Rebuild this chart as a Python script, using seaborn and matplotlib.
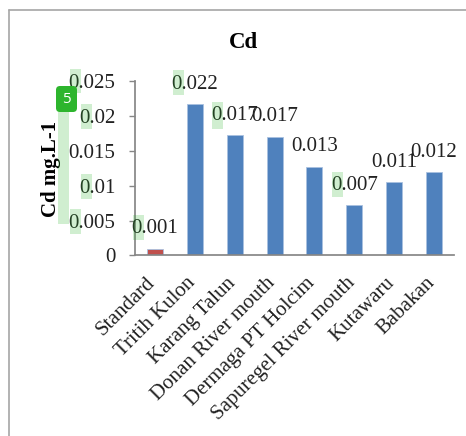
import matplotlib
matplotlib.use('Agg')
import matplotlib.pyplot as plt
import matplotlib.transforms as mtransforms
import seaborn as sns
from matplotlib.lines import Line2D
from matplotlib.patches import FancyBboxPatch, Rectangle

sites = ['Standard', 'Tritih Kulon', 'Karang Talun', 'Donan River mouth',
         'Dermaga PT Holcim', 'Sapuregel River mouth', 'Kutawaru', 'Babakan']
cd_values = [0.001, 0.0217, 0.0172, 0.0170, 0.0127, 0.0072, 0.0105, 0.0119]
cd_labels = ['0.001', '0.022', '0.017', '0.017', '0.013', '0.007', '0.011', '0.012']
bar_colors = ['#C0504D', '#4F81BD', '#4F81BD', '#4F81BD', '#4F81BD', '#4F81BD', '#4F81BD', '#4F81BD']
y_ticks = [0, 0.005, 0.01, 0.015, 0.02, 0.025]
y_tick_labels = ['0', '0.005', '0.01', '0.015', '0.02', '0.025']

W, H = 466, 436

sns.set_theme(style='white')
plt.rcParams['font.family'] = ['Liberation Serif', 'DejaVu Serif']

fig = plt.figure(figsize=(W / 100, H / 100), dpi=100)
ax = fig.add_axes([135 / W, 1 - 255.5 / H, 319 / W, 174.5 / H])

sns.barplot(x=sites, y=cd_values, hue=sites, palette=bar_colors, width=0.4, saturation=1,
            legend=False, ax=ax, edgecolor='#A9C1E0', linewidth=0.6)

for container, label in zip(ax.containers, cd_labels):
    ax.bar_label(container, labels=[label], padding=7.5, fontsize=15, color='#222222')

ax.set_xlim(-0.5, 7.5)
ax.set_ylim(0, 0.025)
ax.set_yticks(y_ticks)
ax.set_yticklabels(y_tick_labels, fontsize=15, color='#222222')
ax.tick_params(axis='y', length=4.5, width=1, color='#868686', pad=9.5, left=True)
ax.tick_params(axis='x', length=0, pad=13)
shift = mtransforms.ScaledTranslation(-9 / 100, 0, fig.dpi_scale_trans)
for tick_label in ax.get_xticklabels():
    tick_label.set_transform(tick_label.get_transform() + shift)
plt.setp(ax.get_xticklabels(), rotation=45, ha='right', rotation_mode='anchor',
         fontsize=15, color='#222222')

sns.despine(ax=ax)
ax.spines['left'].set_color('#868686')
ax.spines['bottom'].set_color('#868686')

ax.set_ylabel('Cd mg.L-1', fontsize=15, fontweight='bold', color='black')
ax.yaxis.set_label_coords((61 - 135) / 319, (255.5 - 169) / 174.5)
fig.text(243 / W, 1 - 42 / H, 'Cd', fontsize=16.5, fontweight='bold', color='black',
         ha='center', va='center')

# outer chart frame, cut off by the crop on the right and bottom
frame = '#A6A6A6'
fig.add_artist(Line2D([9 / W, 9 / W], [0, 1 - 10 / H], color=frame, lw=1.2))
fig.add_artist(Line2D([9 / W, 1], [1 - 10 / H, 1 - 10 / H], color=frame, lw=1.2))

# green highlight boxes sitting over the text
highlights = [(70, 69, 81, 93), (81, 104, 92, 129), (81, 174, 92, 199), (70, 209, 81, 234),
              (58, 110, 69, 224), (133, 215, 144, 240), (173, 70, 184, 95),
              (212, 102, 223, 129), (332, 172, 343, 197)]
for x0, y0, x1, y1 in highlights:
    fig.add_artist(Rectangle((x0 / W, 1 - y1 / H), (x1 - x0) / W, (y1 - y0) / H,
                             transform=fig.transFigure, facecolor='#2DB52D',
                             alpha=0.22, edgecolor='none', zorder=5))

# badge
badge_ax = fig.add_axes([0, 0, 1, 1], zorder=6)
badge_ax.set_xlim(0, W)
badge_ax.set_ylim(H, 0)
badge_ax.axis('off')
badge_ax.add_patch(FancyBboxPatch((59, 89), 15, 20, boxstyle='round,pad=3,rounding_size=4',
                                  facecolor='#2DB52D', edgecolor='none'))
badge_ax.text(66.5, 99.5, '5', color='white', fontsize=11, family='Open Sans',
              ha='center', va='center')

fig.savefig('out.png', dpi=100)
